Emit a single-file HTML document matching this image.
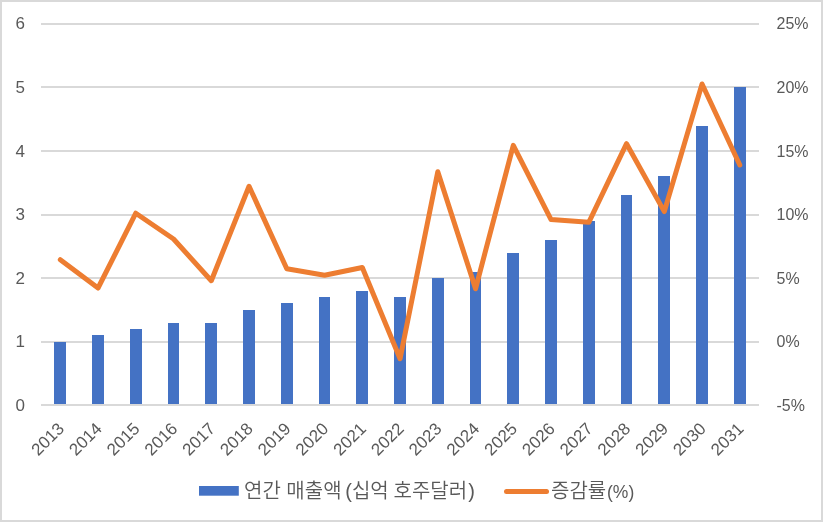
<!DOCTYPE html>
<html lang="ko"><head><meta charset="utf-8"><title>chart</title>
<style>
html,body{margin:0;padding:0;background:#fff;}
body{width:823px;height:522px;overflow:hidden;}
svg{display:block;}
text{font-family:"Liberation Sans","Noto Sans CJK KR",sans-serif;fill:#595959;}
.ax{font-size:17px;}
.lg{font-size:20px;font-weight:350;}
</style></head><body>
<svg width="823" height="522" viewBox="0 0 823 522">
<rect x="0" y="0" width="823" height="522" fill="#fff"/>
<rect x="1" y="1" width="821" height="520" fill="none" stroke="#d9d9d9" stroke-width="2"/>

<g fill="#d9d9d9">
<rect x="41" y="341" width="718" height="2"/>
<rect x="41" y="277" width="718" height="2"/>
<rect x="41" y="214" width="718" height="2"/>
<rect x="41" y="150" width="718" height="2"/>
<rect x="41" y="86" width="718" height="2"/>
<rect x="41" y="23" width="718" height="2"/>
</g>
<g fill="#4472c4">
<rect x="54" y="342" width="12" height="62"/>
<rect x="92" y="335" width="12" height="69"/>
<rect x="130" y="329" width="12" height="75"/>
<rect x="168" y="323" width="11" height="81"/>
<rect x="205" y="323" width="12" height="81"/>
<rect x="243" y="310" width="12" height="94"/>
<rect x="281" y="303" width="12" height="101"/>
<rect x="319" y="297" width="11" height="107"/>
<rect x="356" y="291" width="12" height="113"/>
<rect x="394" y="297" width="12" height="107"/>
<rect x="432" y="278" width="12" height="126"/>
<rect x="470" y="272" width="11" height="132"/>
<rect x="507" y="253" width="12" height="151"/>
<rect x="545" y="240" width="12" height="164"/>
<rect x="583" y="221" width="12" height="183"/>
<rect x="621" y="195" width="11" height="209"/>
<rect x="658" y="176" width="12" height="228"/>
<rect x="696" y="126" width="12" height="278"/>
<rect x="734" y="87" width="12" height="317"/>
</g>
<rect x="41" y="404" width="718" height="2" fill="#d9d9d9"/>
<polyline points="60.30,259.70 98.05,288.00 135.80,213.20 173.55,239.00 211.30,280.70 249.05,186.30 286.80,268.80 324.55,275.30 362.30,267.50 400.05,358.70 437.80,171.70 475.55,288.80 513.30,145.30 551.05,219.60 588.80,222.30 626.55,143.70 664.30,211.60 702.05,84.00 739.80,165.00" fill="none" stroke="#ed7d31" stroke-width="5" stroke-linejoin="round" stroke-linecap="round"/>
<text class="ax" x="25" y="411.1" text-anchor="end">0</text>
<text class="ax" x="25" y="347.1" text-anchor="end">1</text>
<text class="ax" x="25" y="284.1" text-anchor="end">2</text>
<text class="ax" x="25" y="220.1" text-anchor="end">3</text>
<text class="ax" x="25" y="157.1" text-anchor="end">4</text>
<text class="ax" x="25" y="93.1" text-anchor="end">5</text>
<text class="ax" x="25" y="29.1" text-anchor="end">6</text>
<text class="ax" x="776.5" y="411.1" textLength="28.41" lengthAdjust="spacingAndGlyphs">-5%</text>
<text class="ax" x="776.5" y="347.1" textLength="23.09" lengthAdjust="spacingAndGlyphs">0%</text>
<text class="ax" x="776.5" y="284.1" textLength="23.09" lengthAdjust="spacingAndGlyphs">5%</text>
<text class="ax" x="776.5" y="220.1" textLength="31.98" lengthAdjust="spacingAndGlyphs">10%</text>
<text class="ax" x="776.5" y="157.1" textLength="31.98" lengthAdjust="spacingAndGlyphs">15%</text>
<text class="ax" x="776.5" y="93.1" textLength="31.98" lengthAdjust="spacingAndGlyphs">20%</text>
<text class="ax" x="776.5" y="29.1" textLength="31.98" lengthAdjust="spacingAndGlyphs">25%</text>
<text class="ax" transform="translate(65.10,429.70) rotate(-45)" text-anchor="end">2013</text>
<text class="ax" transform="translate(102.85,429.70) rotate(-45)" text-anchor="end">2014</text>
<text class="ax" transform="translate(140.60,429.70) rotate(-45)" text-anchor="end">2015</text>
<text class="ax" transform="translate(178.35,429.70) rotate(-45)" text-anchor="end">2016</text>
<text class="ax" transform="translate(216.10,429.70) rotate(-45)" text-anchor="end">2017</text>
<text class="ax" transform="translate(253.85,429.70) rotate(-45)" text-anchor="end">2018</text>
<text class="ax" transform="translate(291.60,429.70) rotate(-45)" text-anchor="end">2019</text>
<text class="ax" transform="translate(329.35,429.70) rotate(-45)" text-anchor="end">2020</text>
<text class="ax" transform="translate(367.10,429.70) rotate(-45)" text-anchor="end">2021</text>
<text class="ax" transform="translate(404.85,429.70) rotate(-45)" text-anchor="end">2022</text>
<text class="ax" transform="translate(442.60,429.70) rotate(-45)" text-anchor="end">2023</text>
<text class="ax" transform="translate(480.35,429.70) rotate(-45)" text-anchor="end">2024</text>
<text class="ax" transform="translate(518.10,429.70) rotate(-45)" text-anchor="end">2025</text>
<text class="ax" transform="translate(555.85,429.70) rotate(-45)" text-anchor="end">2026</text>
<text class="ax" transform="translate(593.60,429.70) rotate(-45)" text-anchor="end">2027</text>
<text class="ax" transform="translate(631.35,429.70) rotate(-45)" text-anchor="end">2028</text>
<text class="ax" transform="translate(669.10,429.70) rotate(-45)" text-anchor="end">2029</text>
<text class="ax" transform="translate(706.85,429.70) rotate(-45)" text-anchor="end">2030</text>
<text class="ax" transform="translate(744.60,429.70) rotate(-45)" text-anchor="end">2031</text>
<rect x="199" y="486" width="39.8" height="9.7" fill="#4472c4"/>
<text class="lg" x="244" y="497.5">연간 매출액 <tspan dx="-1.9">(십억 </tspan><tspan dx="-0.7">호주달러</tspan><tspan dx="1">)</tspan></text>
<line x1="506.5" y1="491.5" x2="546.5" y2="491.5" stroke="#ed7d31" stroke-width="5" stroke-linecap="round"/>
<text class="lg" x="551" y="497.5">증감률<tspan font-size="17.5" dx="0.8">(%)</tspan></text>
</svg></body></html>
